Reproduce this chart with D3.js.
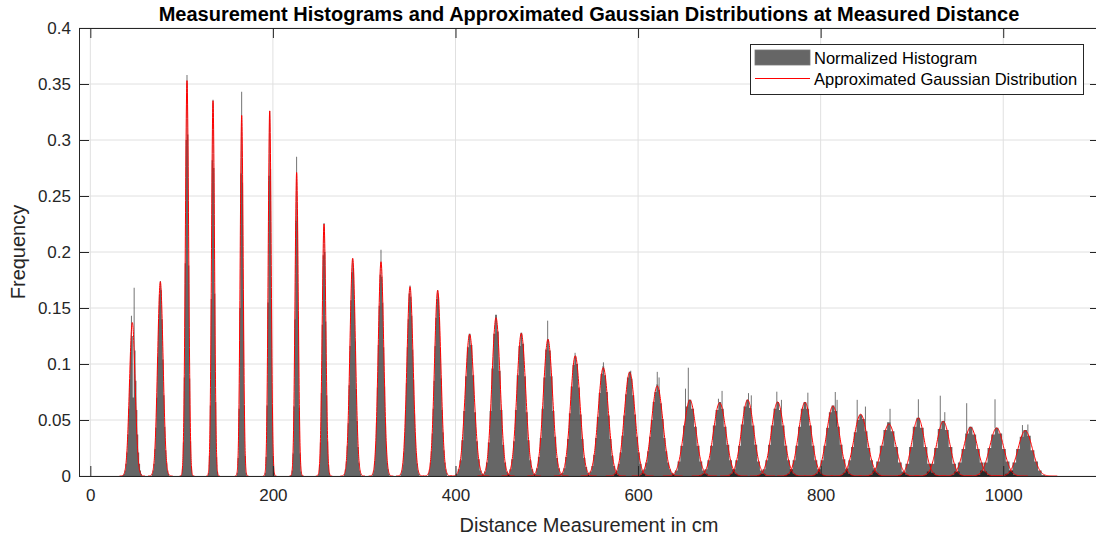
<!DOCTYPE html>
<html><head><meta charset="utf-8">
<script src="https://cdn.jsdelivr.net/npm/d3@7"></script>
<style>
body{margin:0;background:#fff;}
svg{display:block;font-family:"Liberation Sans",Arial,Helvetica,sans-serif;}
</style>
</head><body>
<svg id="chart" width="1096" height="538"></svg>
<script>
// ---------------- data ----------------
const titleText = "Measurement Histograms and Approximated Gaussian Distributions at Measured Distance";
const xLabel = "Distance Measurement in cm";
const yLabel = "Frequency";
const xTicks = [0, 200, 400, 600, 800, 1000];
const yTicks = [0, 0.05, 0.1, 0.15, 0.2, 0.25, 0.3, 0.35, 0.4];
const yTickLabels = ["0", "0.05", "0.1", "0.15", "0.2", "0.25", "0.3", "0.35", "0.4"];
const legendLabels = ["Normalized Histogram", "Approximated Gaussian Distribution"];

// fitted Gaussian parameters per measured distance (cm)
const peakMeans = [46.0, 76.7, 105.9, 134.4, 165.8, 196.5, 226.0, 256.0, 287.4, 318.4, 350.2, 380.5,
  415.5, 444.4, 472.1, 501.3, 531.2, 561.9, 590.8, 621.0, 656.8, 689.4, 720.0, 752.9, 782.8, 813.5,
  843.8, 874.8, 906.9, 934.3, 964.3, 992.8, 1024.1];
const peakSigmas = [3.1, 3.0, 1.8, 1.65, 1.65, 1.65, 1.75, 2.0, 3.0, 3.0, 3.4, 3.5,
  4.8, 4.5, 4.8, 5.0, 5.2, 5.5, 5.8, 6.2, 6.6, 6.8, 6.7, 6.8, 6.8, 7.0,
  7.3, 7.4, 6.8, 7.0, 7.4, 7.6, 7.8];
const peakHeights = [.137, .1735, .353, .335, .322, .326, .271, .225, .1944, .1913, .169, .1658,
  .1265, .1414, .1274, .122, .1074, .0967, .0926, .0804, .0679, .0655, .0679, .0661, .0658, .0625,
  .0551, .0464, .0518, .0488, .0435, .0429, .0405];

// histogram bin width (cm) per measured distance, bins centred on the mean
const histBinWidth = [1,1,1,1,1,1,1,1,1,1,1,1, 2,2,2,2,2,2,2,2, 3,3,3,3,3,3,3, 4,4,4,4,4,4];
const histFreq = [
  [.001,.002,.005,.011,.021,.037,.060,.086,.111,.143,.125,.070,.168,.112,.085,.059,.037,.021,.011,.005,.002],
  [.002,.005,.011,.024,.043,.070,.106,.138,.162,.174,.166,.140,.104,.072,.044,.023,.012,.005,.002],
  [.001,.007,.030,.088,.190,.300,.358,.305,.188,.087,.031,.008,.001],
  [.003,.018,.063,.158,.282,.336,.275,.163,.066,.017,.004],
  [.003,.016,.060,.150,.270,.343,.262,.158,.063,.018,.003],
  [.003,.017,.063,.155,.268,.326,.274,.157,.061,.018,.003],
  [.001,.005,.020,.062,.140,.228,.285,.232,.142,.061,.020,.004,.001],
  [.002,.010,.030,.074,.135,.197,.226,.200,.138,.072,.031,.010,.003],
  [.002,.006,.013,.027,.047,.081,.116,.157,.182,.194,.186,.154,.120,.078,.049,.026,.012,.005,.002],
  [.002,.005,.013,.026,.048,.079,.117,.152,.180,.202,.178,.155,.115,.080,.047,.026,.012,.006,.002],
  [.002,.005,.010,.021,.035,.058,.083,.115,.140,.163,.170,.160,.143,.113,.086,.056,.036,.020,.011,.005,.002],
  [.003,.006,.012,.022,.038,.060,.085,.116,.141,.158,.166,.160,.140,.114,.087,.059,.039,.023,.012,.006,.003],
  [.002,.006,.014,.032,.058,.089,.115,.127,.117,.090,.057,.031,.015,.005,.002],
  [.001,.004,.012,.030,.058,.096,.127,.144,.129,.094,.059,.028,.012,.004,.001],
  [.002,.006,.015,.031,.059,.090,.116,.128,.118,.089,.057,.032,.014,.006,.002],
  [.002,.007,.017,.034,.060,.088,.113,.122,.112,.089,.058,.035,.016,.007,.002],
  [.003,.007,.017,.033,.056,.080,.099,.107,.100,.079,.055,.033,.016,.008,.003],
  [.001,.004,.009,.019,.034,.053,.074,.091,.098,.090,.075,.054,.033,.018,.009,.004,.001],
  [.002,.005,.011,.021,.036,.054,.073,.088,.093,.087,.072,.055,.035,.021,.011,.005,.002],
  [.001,.003,.006,.012,.022,.035,.050,.066,.075,.082,.077,.065,.051,.034,.022,.012,.006,.003,.001],
  [.000,.002,.005,.013,.027,.045,.062,.068,.060,.044,.027,.013,.005,.002,.000],
  [.001,.002,.006,.014,.027,.045,.059,.066,.060,.044,.028,.014,.006,.002,.001],
  [.000,.002,.006,.014,.027,.046,.062,.068,.061,.045,.028,.013,.005,.002,.000],
  [.001,.002,.006,.014,.028,.045,.060,.066,.059,.045,.027,.014,.006,.002,.001],
  [.001,.002,.006,.014,.027,.044,.060,.066,.060,.045,.027,.014,.006,.002,.001],
  [.001,.002,.006,.014,.027,.043,.057,.063,.058,.044,.028,.015,.006,.002,.001],
  [.001,.003,.007,.014,.026,.039,.050,.055,.051,.040,.025,.014,.007,.003,.001],
  [.000,.001,.005,.013,.027,.041,.048,.040,.026,.012,.004,.001,.000],
  [.000,.001,.003,.011,.026,.044,.052,.043,.026,.011,.003,.001,.000],
  [.000,.001,.004,.011,.025,.042,.049,.041,.026,.011,.004,.001,.000],
  [.000,.001,.004,.012,.024,.038,.044,.037,.024,.012,.004,.001,.000],
  [.000,.001,.005,.012,.025,.037,.043,.038,.024,.013,.005,.001,.000],
  [.000,.002,.005,.012,.024,.035,.041,.036,.023,.013,.005,.001,.000]
];
// narrow single-bin spikes rising above the histogram body
const spikeX =    [318, 501, 531, 562, 592, 621, 623, 652, 655, 688, 692, 721, 724, 752, 757, 786, 816, 818, 840, 849, 876, 907, 931, 936, 960, 991, 1021, 1027];
const spikeFreq = [.2018,.1387,.110,.1015,.094,.093,.088,.078,.0967,.069,.076,.074,.072,.0753,.068,.0744,.075,.068,.068,.062,.060,.0685,.0717,.057,.065,.0685,.0455,.046];

// ---------------- layout ----------------
const plot = {left: 79, right: 1100, top: 28, bottom: 476};
const ink = "#262626";

const svg = d3.select("#chart");
const x = d3.scaleLinear().domain([-12.4, 1106]).range([plot.left, plot.right]);
const y = d3.scaleLinear().domain([0, 0.4]).range([plot.bottom, plot.top]);

svg.append("defs").append("clipPath").attr("id", "clip")
  .append("rect").attr("x", plot.left).attr("y", plot.top)
  .attr("width", plot.right - plot.left).attr("height", plot.bottom - plot.top);

// grid
const grid = svg.append("g").attr("stroke", "#e0e0e0").attr("stroke-width", 1);
grid.selectAll(".vx").data(xTicks).join("line")
  .attr("x1", d => x(d)).attr("x2", d => x(d)).attr("y1", plot.top).attr("y2", plot.bottom);
grid.selectAll(".hy").data(yTicks).join("line")
  .attr("x1", plot.left).attr("x2", plot.right).attr("y1", d => y(d)).attr("y2", d => y(d));

const dataG = svg.append("g").attr("clip-path", "url(#clip)");

// histogram bodies
const area = d3.area().x(d => x(d[0])).y0(y(0)).y1(d => y(d[1]));
const bins = histFreq.map((arr, i) => {
  const w = histBinWidth[i];
  const left = peakMeans[i] - arr.length * w / 2;
  return arr.map((f, j) => ({x0: left + j * w, x1: left + (j + 1) * w, f}));
});
bins.forEach(b => {
  const pts = [];
  b.forEach(d => { pts.push([d.x0, d.f]); pts.push([d.x1, d.f]); });
  dataG.append("path").attr("d", area(pts)).attr("fill", "#000").attr("fill-opacity", 0.6);
});

// spikes (only the part above the body)
function bodyAt(v) {
  let m = 0;
  bins.forEach(b => b.forEach(d => { if (v >= d.x0 && v < d.x1) m = Math.max(m, d.f); }));
  return m;
}
dataG.selectAll(".spike").data(spikeX.map((v, i) => ({v, f: spikeFreq[i], b: bodyAt(v)})))
  .join("rect")
  .attr("x", d => x(d.v - 0.5)).attr("width", d => x(d.v + 0.5) - x(d.v - 0.5))
  .attr("y", d => y(d.f)).attr("height", d => Math.max(0, y(d.b) - y(d.f)))
  .attr("fill", "#000").attr("fill-opacity", 0.6);

// Gaussian curves
const gauss = (v, m, s, h) => h * Math.exp(-0.5 * ((v - m) / s) ** 2);
const line = d3.line().x(d => x(d[0])).y(d => y(d[1]));
peakMeans.forEach((m, i) => {
  const s = peakSigmas[i], h = peakHeights[i];
  const pts = d3.range(0, 181).map(k => {
    const v = m - 4.5 * s + k * (9 * s / 180);
    return [v, gauss(v, m, s, h)];
  });
  dataG.append("path").attr("d", line(pts)).attr("fill", "none")
    .attr("stroke", "#ff0000").attr("stroke-width", 1);
});

// axes
function styleAxis(g) {
  g.selectAll("path").attr("stroke", ink).attr("stroke-width", 1);
  g.selectAll("line").attr("stroke", ink).attr("stroke-width", 1);
  g.selectAll("text").attr("fill", ink).attr("font-size", 17)
    .attr("font-family", '"Liberation Sans",Arial,Helvetica,sans-serif');
}
svg.append("g").attr("transform", `translate(0,${plot.bottom})`)
  .call(d3.axisBottom(x).tickValues(xTicks).tickSize(-10).tickSizeOuter(0).tickPadding(13)
    .tickFormat(d3.format("d")))
  .call(styleAxis);
svg.append("g").attr("transform", `translate(0,${plot.top})`)
  .call(d3.axisTop(x).tickValues(xTicks).tickSize(-10).tickSizeOuter(0).tickFormat(""))
  .call(styleAxis);
svg.append("g").attr("transform", `translate(${plot.left},0)`)
  .call(d3.axisLeft(y).tickValues(yTicks).tickSize(-10).tickSizeOuter(0).tickPadding(8)
    .tickFormat((d, i) => yTickLabels[i]))
  .call(styleAxis);
svg.append("g").attr("transform", `translate(${plot.right},0)`)
  .call(d3.axisRight(y).tickValues(yTicks).tickSize(-10).tickSizeOuter(0).tickFormat(""))
  .call(styleAxis);
svg.selectAll(".domain").attr("fill", "none");

// title & labels
svg.append("text").attr("x", 589).attr("y", 21).attr("text-anchor", "middle")
  .attr("font-size", 20).attr("font-weight", "bold").attr("fill", "#000").text(titleText);
svg.append("text").attr("x", 589).attr("y", 532).attr("text-anchor", "middle")
  .attr("font-size", 20).attr("fill", ink).text(xLabel);
svg.append("text").attr("transform", "translate(25,252) rotate(-90)").attr("text-anchor", "middle")
  .attr("font-size", 20).attr("fill", ink).text(yLabel);

// legend
const lg = svg.append("g");
lg.append("rect").attr("x", 750.5).attr("y", 44.5).attr("width", 333).attr("height", 50)
  .attr("fill", "#fff").attr("stroke", ink).attr("stroke-width", 1);
lg.append("rect").attr("x", 755).attr("y", 50).attr("width", 55).attr("height", 15)
  .attr("fill", "#000").attr("fill-opacity", 0.6).attr("stroke", "#777").attr("stroke-width", 0.8);
lg.append("line").attr("x1", 755).attr("x2", 810).attr("y1", 78.5).attr("y2", 78.5)
  .attr("stroke", "#ff0000").attr("stroke-width", 1);
lg.selectAll(".lt").data(legendLabels).join("text")
  .attr("x", 814).attr("y", (d, i) => i === 0 ? 64 : 85)
  .attr("font-size", 16.5).attr("fill", "#000").text(d => d);
</script>
</body></html>
